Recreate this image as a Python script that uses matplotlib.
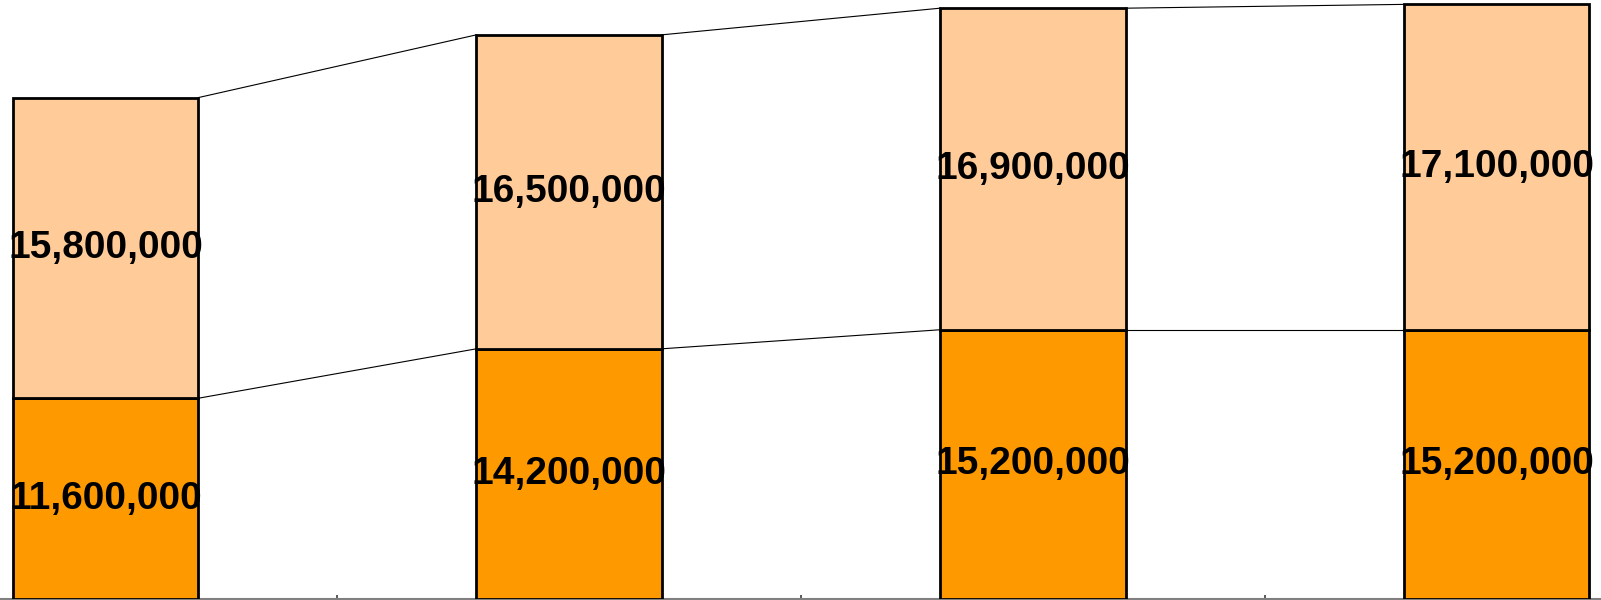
"""Stacked bar chart with connector lines between the segment tops."""

import matplotlib
matplotlib.use("Agg")
import matplotlib.pyplot as plt

categories = ["A", "B", "C", "D"]
lower_values = [11_600_000, 14_200_000, 15_200_000, 15_200_000]
upper_values = [15_800_000, 16_500_000, 16_900_000, 17_100_000]

LOWER_COLOR = "#FF9900"
UPPER_COLOR = "#FFCC99"
Y_MIN = 1_050_000
Y_MAX = 32_530_000
BAR_WIDTH = 0.4

plt.rcParams["font.family"] = ["Liberation Sans", "DejaVu Sans"]

fig = plt.figure(figsize=(16.01, 6.0), dpi=100)
ax = fig.add_axes([0, 1.0 / 600, 1, 599.0 / 600])

x = list(range(len(categories)))
totals = [lo + up for lo, up in zip(lower_values, upper_values)]

ax.bar(x, [v - Y_MIN for v in lower_values], bottom=Y_MIN, width=BAR_WIDTH,
       color=LOWER_COLOR, edgecolor="black", linewidth=2.0, zorder=3)
ax.bar(x, upper_values, bottom=lower_values, width=BAR_WIDTH,
       color=UPPER_COLOR, edgecolor="black", linewidth=2.0, zorder=3)

# connector lines between neighbouring bars
half = BAR_WIDTH / 2
for i in range(len(x) - 1):
    for level in (lower_values, totals):
        ax.plot([x[i] + half, x[i + 1] - half], [level[i], level[i + 1]],
                color="black", linewidth=0.8, zorder=2)

# segment labels
for i in range(len(x)):
    ax.text(x[i], (Y_MIN + lower_values[i]) / 2, f"{lower_values[i]:,}",
            ha="center", va="center", fontsize=28, fontweight="bold", zorder=4)
    ax.text(x[i], (lower_values[i] + totals[i]) / 2, f"{upper_values[i]:,}",
            ha="center", va="center", fontsize=28, fontweight="bold", zorder=4)

ax.set_xlim(-0.2275, 3.225)
ax.set_ylim(Y_MIN, Y_MAX)
ax.set_xticks([0.5, 1.5, 2.5])
ax.set_xticklabels([])
ax.set_yticks([])
ax.tick_params(axis="x", direction="in", length=3, color="#404040", width=1.2)
for side in ("top", "right", "left"):
    ax.spines[side].set_visible(False)
ax.spines["bottom"].set_color("#808080")
ax.spines["bottom"].set_linewidth(1.5)

fig.savefig("out.png", dpi=100)
plt.close(fig)
